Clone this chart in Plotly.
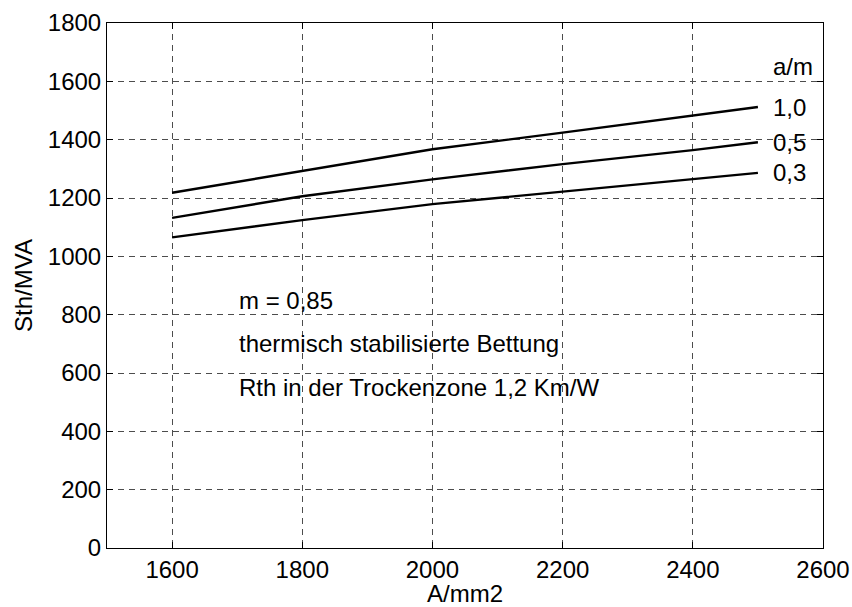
import plotly.graph_objects as go

# Conductor cross-section in mm^2
cross_section = [1600, 1800, 2000, 2200, 2400, 2500]

# Thermal transmission capacity Sth in MVA for each a/m spacing
sth_a10 = [1218, 1292, 1367, 1424, 1484, 1512]
sth_a05 = [1132, 1206, 1264, 1316, 1364, 1391]
sth_a03 = [1065, 1124, 1179, 1221, 1264, 1286]

series = [("1,0", sth_a10), ("0,5", sth_a05), ("0,3", sth_a03)]

notes = ["m = 0,85", "thermisch stabilisierte Bettung", "Rth in der Trockenzone 1,2 Km/W"]
note_y = [850, 700, 550]

x_ticks = [1600, 1800, 2000, 2200, 2400, 2600]
y_ticks = list(range(0, 1801, 200))

FONT = "Liberation Sans, Arial, Helvetica, sans-serif"
FS = 24

fig = go.Figure()
for name, vals in series:
    fig.add_trace(go.Scatter(
        x=cross_section, y=vals, mode="lines", name=name,
        line=dict(color="black", width=2.4), showlegend=False,
    ))

# curve parameter labels at the right end of each curve
fig.add_annotation(x=2520, y=1650, text="a/m", showarrow=False,
                   xanchor="left", yanchor="middle",
                   font=dict(family=FONT, size=FS, color="black"))
for name, vals in series:
    fig.add_annotation(x=2520, y=vals[-1], text=name, showarrow=False,
                       xanchor="left", yanchor="middle",
                       font=dict(family=FONT, size=FS, color="black"))

for txt, yy in zip(notes, note_y):
    fig.add_annotation(x=1700, y=yy, text=txt, showarrow=False,
                       xanchor="left", yanchor="middle",
                       font=dict(family=FONT, size=FS, color="black"))

axis_common = dict(
    showline=True, linecolor="black", linewidth=1, mirror="ticks",
    ticks="inside", ticklen=6, tickcolor="black", tickwidth=1,
    showgrid=True, gridcolor="#4d4d4d", gridwidth=1, griddash="6px,5px",
    zeroline=False,
    tickfont=dict(family=FONT, size=FS, color="black"),
)

fig.update_xaxes(range=[1500, 2600], tickvals=x_ticks,
                 title=dict(text="A/mm2", standoff=4,
                            font=dict(family=FONT, size=FS, color="black")),
                 **axis_common)
fig.update_yaxes(range=[0, 1800], tickvals=y_ticks,
                 title=dict(text="Sth/MVA", standoff=8,
                            font=dict(family=FONT, size=FS, color="black")),
                 **axis_common)

fig.update_layout(
    width=852, height=607,
    margin=dict(l=107, r=29, t=23, b=59, autoexpand=False),
    paper_bgcolor="white", plot_bgcolor="white",
    font=dict(family=FONT, size=FS, color="black"),
)

fig.write_html("out.html")
